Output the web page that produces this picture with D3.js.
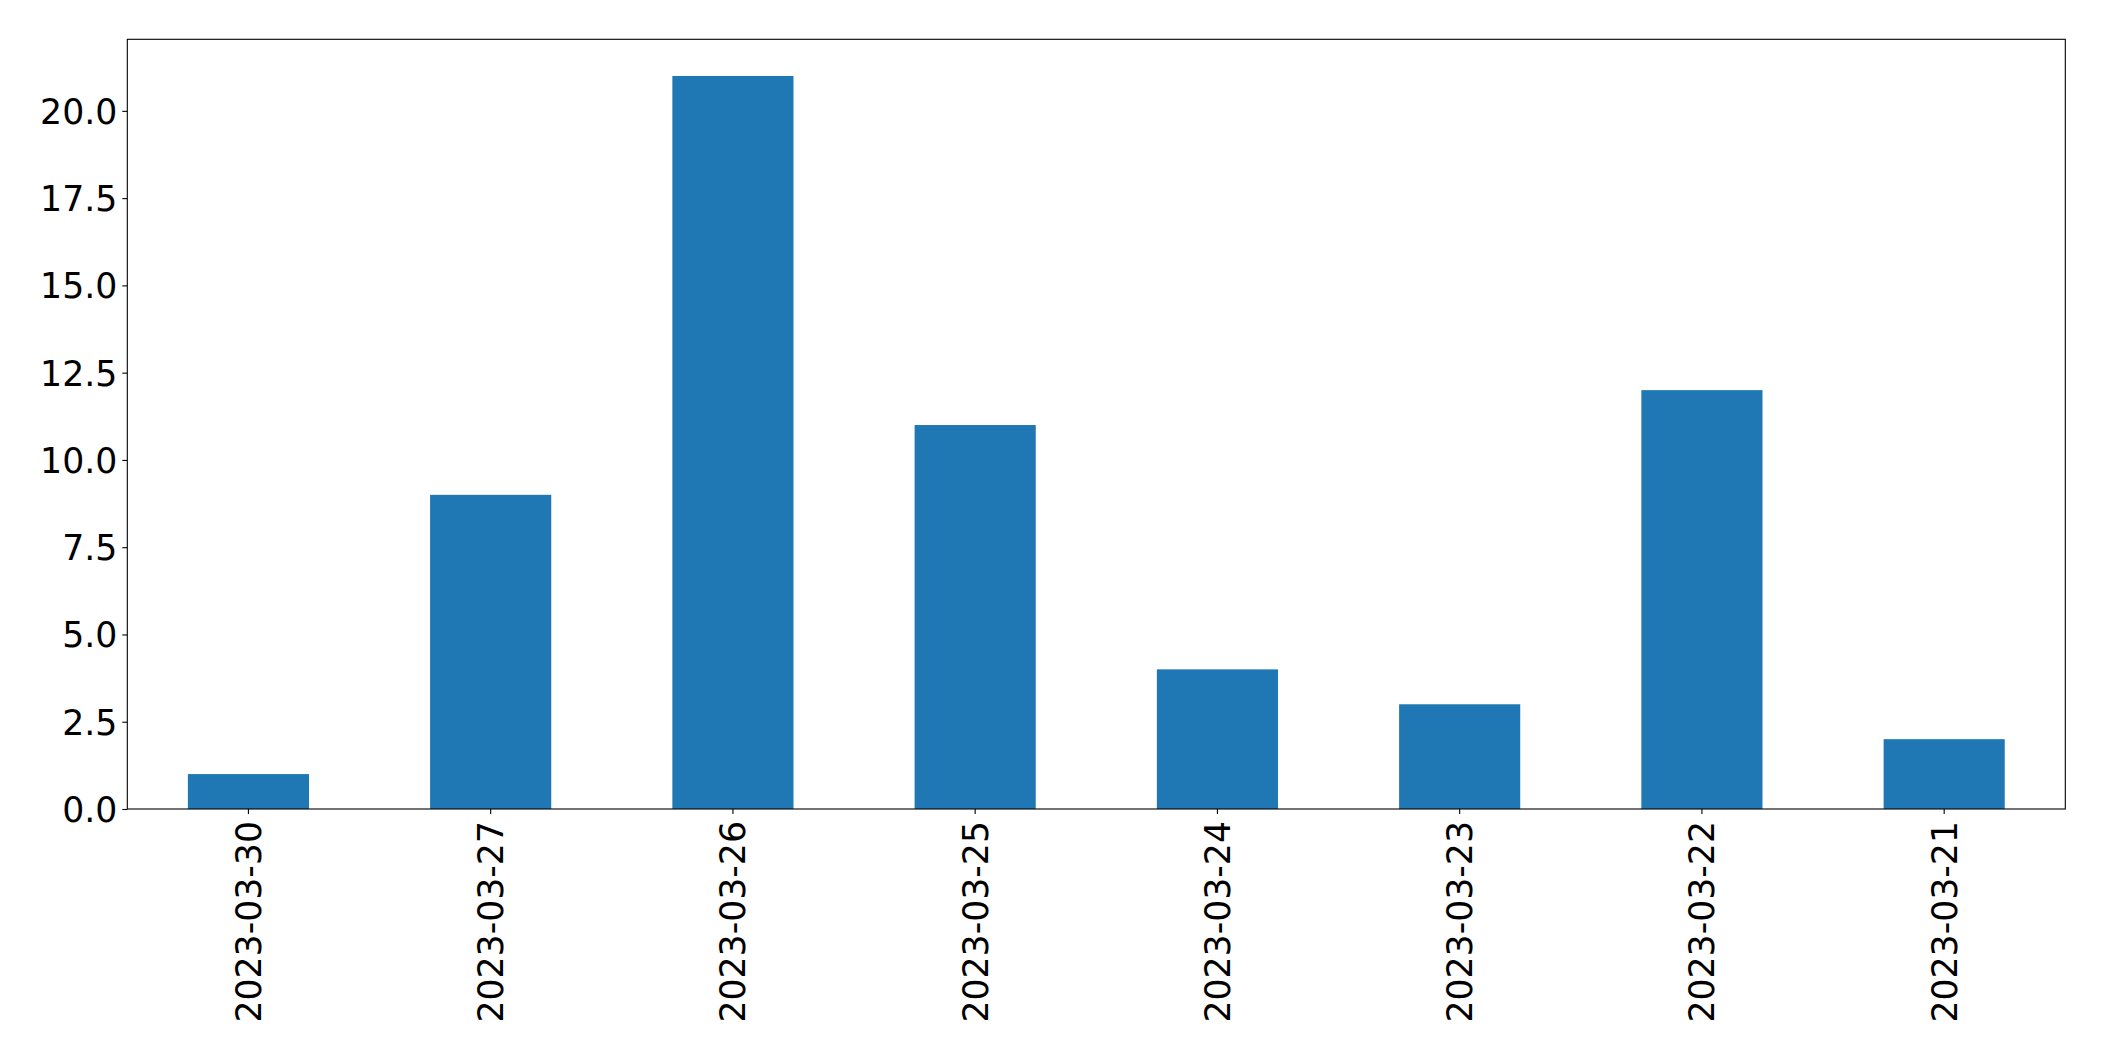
<!DOCTYPE html>
<html><head><meta charset="utf-8">
<script src="https://cdn.jsdelivr.net/npm/d3@7"></script>
<style>html,body{margin:0;padding:0;background:#fff;} svg{display:block;}</style>
</head><body>
<script>
const categories = ["2023-03-30","2023-03-27","2023-03-26","2023-03-25","2023-03-24","2023-03-23","2023-03-22","2023-03-21"];
const values = [1, 9, 21, 11, 4, 3, 12, 2];
const yTicks = [0, 2.5, 5, 7.5, 10, 12.5, 15, 17.5, 20];

const W = 2104, H = 1061;
const m = {left: 127.3, right: 2065.3, top: 39.3, bottom: 809};
const fs = 34.7;
const svg = d3.select("body").append("svg").attr("width", W).attr("height", H);

const x = d3.scaleBand().domain(categories).range([m.left, m.right]).paddingInner(0.5).paddingOuter(0.25);
const y = d3.scaleLinear().domain([0, d3.max(values) * 1.05]).range([m.bottom, m.top]);

svg.append("g").selectAll("rect").data(values).join("rect")
  .attr("x", (d, i) => x(categories[i]))
  .attr("width", x.bandwidth())
  .attr("y", d => y(d))
  .attr("height", d => y(0) - y(d))
  .attr("fill", "#1f77b4");

const yAxis = d3.axisLeft(y).tickValues(yTicks).tickFormat(d3.format(".1f")).tickSize(5).tickPadding(5);
const gy = svg.append("g").attr("transform", `translate(${m.left},0)`).call(yAxis);
gy.select(".domain").remove();
gy.selectAll("line").attr("stroke", "#000").attr("stroke-width", 1.1);
gy.selectAll("text").attr("font-family", "DejaVu Sans").attr("font-size", fs).attr("fill", "#000").attr("dy", "0.36em");

const xAxis = d3.axisBottom(x).tickSize(5).tickPadding(0);
const gx = svg.append("g").attr("transform", `translate(0,${m.bottom})`).call(xAxis);
gx.select(".domain").remove();
gx.selectAll("line").attr("stroke", "#000").attr("stroke-width", 1.1);
gx.selectAll("text")
  .attr("font-family", "DejaVu Sans").attr("font-size", fs).attr("fill", "#000")
  .attr("text-anchor", "end")
  .attr("transform", "rotate(-90)")
  .attr("x", -12).attr("y", 0).attr("dy", "0.36em");

svg.append("rect").attr("x", m.left).attr("y", m.top)
  .attr("width", m.right - m.left).attr("height", m.bottom - m.top)
  .attr("fill", "none").attr("stroke", "#000").attr("stroke-width", 1.1);
</script>
</body></html>
